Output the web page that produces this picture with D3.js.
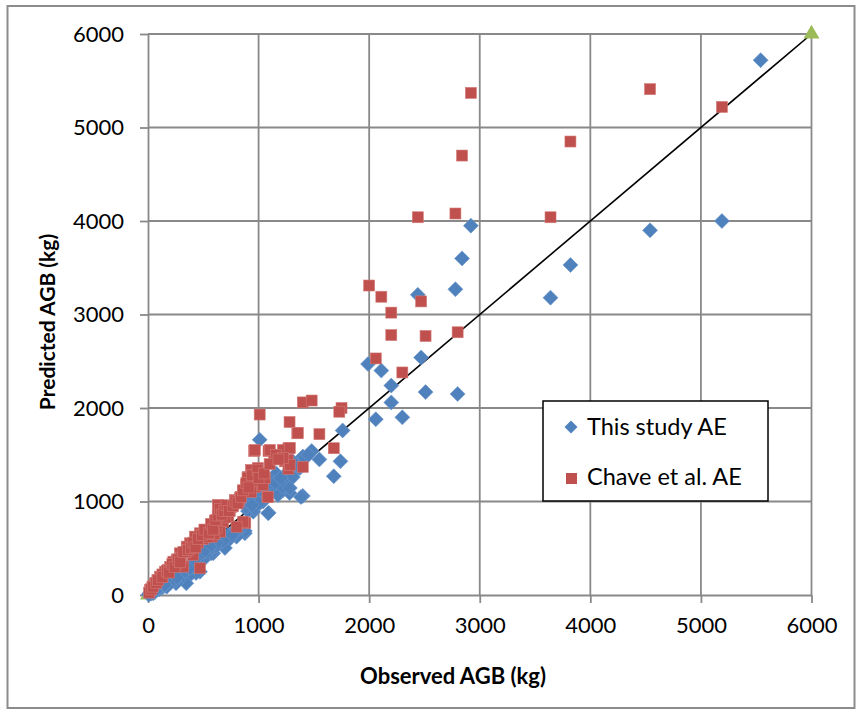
<!DOCTYPE html>
<html>
<head>
<meta charset="utf-8">
<script src="https://cdn.jsdelivr.net/npm/d3@7/dist/d3.min.js"></script>
<style>
  html, body { margin: 0; padding: 0; background: #fff; }
  svg { display: block; }
  text { font-family: Lato, "Open Sans", sans-serif; fill: #000; }
</style>
</head>
<body>
<svg id="chart" width="856" height="709"></svg>
<script>
// Observed vs predicted above-ground biomass (kg)
const axisTicks = [0, 1000, 2000, 3000, 4000, 5000, 6000];

// "This study AE" — observed / predicted
const thisStudyObs = [
  5540, 5190, 4540, 3820, 3640, 2920, 2840, 2780, 2440, 2470,
  1990, 2110, 2200, 2200, 2510, 2800, 2060, 2300, 1760, 1010,
  1480, 1400, 1550, 1740, 1680, 1400, 1090, 1300, 1220, 1280,
  1120, 1340, 1250, 1160, 1280, 1102, 1111, 1175, 1265, 1310,
  1373, 1419, 1383, 1220, 1283, 997, 985, 952, 922, 904,
  892, 1087, 876, 876, 830, 801, 740, 696, 696, 650,
  620, 590, 570, 560, 520, 497, 485, 470, 434, 430,
  400, 389, 364, 346, 330, 300, 274, 253, 240, 200,
  169, 130, 108, 100, 70, 48, 30, 18, 15, 5,
  1040, 960, 780, 720, 640, 610, 540, 450, 380, 260,
  150, 60, 1050, 1150, 1200, 1330, 1450, 1000, 940, 1060,
  800, 760, 680, 620, 560, 500, 440, 420
];
const thisStudyPred = [
  5720, 4000, 3900, 3530, 3180, 3950, 3600, 3270, 3210, 2540,
  2470, 2400, 2240, 2060, 2170, 2150, 1880, 1900, 1760, 1660,
  1540, 1480, 1450, 1430, 1270, 1060, 880, 1440, 1120, 1090,
  1230, 1340, 1160, 1300, 1230, 1230, 1102, 1070, 1316, 1262,
  1358, 1465, 1048, 1155, 1144, 1051, 952, 891, 1016, 898,
  944, 874, 660, 684, 700, 624, 600, 503, 624, 560,
  520, 446, 446, 481, 420, 374, 428, 249, 235, 350,
  300, 300, 196, 125, 250, 210, 160, 125, 150, 130,
  89, 80, 75, 60, 40, 18, 15, 21, 10, 5,
  1000, 930, 690, 640, 560, 520, 470, 380, 290, 190,
  110, 40, 1100, 1200, 1250, 1400, 1500, 980, 960, 1150,
  680, 640, 580, 560, 520, 460, 400, 380
];

// "Chave et al. AE" — observed / predicted
const chaveObs = [
  5190, 4540, 3820, 3640, 2920, 2840, 2780, 2440, 2470, 2000,
  2110, 2200, 2200, 2510, 2800, 2060, 2300, 1400, 1480, 1750,
  1730, 1010, 1280, 1350, 1550, 1680, 960, 1090, 1140, 1270,
  1240, 1270, 1400, 1080, 880, 1355, 967, 1102, 1220, 1283,
  1157, 1265, 1283, 1220, 931, 994, 904, 949, 1021, 886,
  967, 858, 931, 1039, 1084, 696, 756, 666, 726, 680,
  861, 801, 576, 530, 470, 425, 380, 576, 651, 350,
  289, 229, 154, 108, 63, 18, 319, 470, 409, 620,
  700, 786, 740, 632, 605, 831, 900, 1057, 980, 820,
  500, 450, 540, 600, 260, 200, 130, 85, 40, 25,
  10, 340, 300, 250, 180, 30, 45, 75, 90, 130,
  170, 190, 220, 240, 270, 290, 320, 360, 390, 410,
  430, 450, 490, 510, 550, 570, 590, 610, 630, 650,
  670, 690, 710, 730, 770, 790, 810, 840, 860, 890,
  910, 940, 990, 1000, 1050, 1100, 1180
];
const chavePred = [
  5220, 5410, 4850, 4040, 5370, 4700, 4080, 4040, 3140, 3310,
  3190, 3020, 2780, 2770, 2810, 2530, 2380, 2060, 2080, 2000,
  1960, 1930, 1850, 1730, 1720, 1570, 1540, 1540, 1500, 1570,
  1430, 1350, 1370, 1050, 770, 1733, 1551, 1551, 1551, 1572,
  1497, 1444, 1390, 1465, 1337, 1358, 1262, 1230, 1209, 1176,
  1155, 1102, 1102, 1176, 1048, 944, 944, 909, 837, 784,
  784, 730, 730, 695, 660, 624, 553, 624, 677, 517,
  446, 356, 249, 196, 125, 53, 303, 286, 428, 720,
  830, 1016, 900, 963, 791, 1037, 1251, 1251, 1290, 1000,
  600, 560, 620, 650, 380, 300, 220, 160, 90, 60,
  25, 460, 400, 330, 270, 60, 90, 130, 160, 190,
  260, 240, 330, 300, 380, 350, 460, 480, 500, 560,
  510, 600, 640, 700, 660, 760, 700, 800, 850, 920,
  860, 900, 960, 900, 950, 1000, 980, 1050, 1120, 1200,
  1150, 1280, 1340, 1250, 1300, 1400, 1450
];

// 1:1 reference line end points
const oneToOne = [0, 6000];

const legendLabels = ["This study AE", "Chave et al. AE"];

const COLORS = { thisStudy: "#4F81BD", chave: "#C0504D", ref: "#9BBB59", grid: "#898989" };

const svg = d3.select("#chart");

// outer chart frame
svg.append("rect")
  .attr("x", 7.5).attr("y", 6).attr("width", 847).attr("height", 702)
  .attr("fill", "#fff").attr("stroke", "#8c8c8c").attr("stroke-width", 2);

const x = d3.scaleLinear().domain([0, 6000]).range([148, 811.5]);
const y = d3.scaleLinear().domain([0, 6000]).range([595, 34]);

// gridlines
const grid = svg.append("g").attr("stroke", COLORS.grid).attr("stroke-width", 1.8);
grid.selectAll("line.v").data(axisTicks.slice(1)).join("line")
  .attr("x1", d => x(d)).attr("x2", d => x(d)).attr("y1", y(0)).attr("y2", y(6000));
grid.selectAll("line.h").data(axisTicks.slice(1)).join("line")
  .attr("x1", x(0)).attr("x2", x(6000)).attr("y1", d => y(d)).attr("y2", d => y(d));

// axes
const fmt = d3.format("d");
const xAxis = d3.axisBottom(x).tickValues(axisTicks).tickFormat(fmt)
  .tickSize(8).tickSizeOuter(0).tickPadding(14);
const yAxis = d3.axisLeft(y).tickValues(axisTicks).tickFormat(fmt)
  .tickSize(8).tickSizeOuter(0).tickPadding(16);

const gx = svg.append("g").attr("transform", `translate(0,${y(0)})`).call(xAxis);
const gy = svg.append("g").attr("transform", `translate(${x(0)},0)`).call(yAxis);
[gx, gy].forEach(g => {
  g.select(".domain").attr("stroke", COLORS.grid).attr("stroke-width", 1.8);
  g.selectAll(".tick line").attr("stroke", COLORS.grid).attr("stroke-width", 1.8);
  g.selectAll(".tick text").attr("font-size", 22).attr("font-family", "Lato, sans-serif").attr("fill", "#000");
});

// 1:1 line and its end markers
svg.append("line")
  .attr("x1", x(oneToOne[0])).attr("y1", y(oneToOne[0]))
  .attr("x2", x(oneToOne[1])).attr("y2", y(oneToOne[1]))
  .attr("stroke", "#000").attr("stroke-width", 1.6);
svg.append("g").selectAll("path").data(oneToOne).join("path")
  .attr("transform", d => `translate(${x(d)},${y(d)})`)
  .attr("d", d3.symbol(d3.symbolTriangle, 110)())
  .attr("fill", COLORS.ref);

// series markers
const diamond = "M0,-7.5L7.5,0L0,7.5L-7.5,0Z";
svg.append("g").selectAll("path").data(d3.range(thisStudyObs.length)).join("path")
  .attr("transform", i => `translate(${x(thisStudyObs[i])},${y(thisStudyPred[i])})`)
  .attr("d", diamond)
  .attr("fill", COLORS.thisStudy)
  .attr("stroke", "#6f98cc").attr("stroke-width", 0.6);

svg.append("g").selectAll("rect").data(d3.range(chaveObs.length)).join("rect")
  .attr("x", i => x(chaveObs[i]) - 5.5).attr("y", i => y(chavePred[i]) - 5.5)
  .attr("width", 11).attr("height", 11)
  .attr("fill", COLORS.chave)
  .attr("stroke", "#d27a77").attr("stroke-width", 0.6);

// axis titles
svg.append("text")
  .attr("x", 453).attr("y", 684)
  .attr("text-anchor", "middle").attr("font-size", 22).attr("font-weight", "bold")
  .text("Observed AGB (kg)");
svg.append("text")
  .attr("transform", "translate(55,322) rotate(-90)")
  .attr("text-anchor", "middle").attr("font-size", 21).attr("font-weight", "bold")
  .text("Predicted AGB (kg)");

// legend
const lg = svg.append("g");
lg.append("rect")
  .attr("x", 543).attr("y", 401).attr("width", 225).attr("height", 100)
  .attr("fill", "#fff").attr("stroke", "#000").attr("stroke-width", 1.5);
lg.append("path")
  .attr("transform", "translate(571,427)")
  .attr("d", "M0,-6.5L6.5,0L0,6.5L-6.5,0Z")
  .attr("fill", COLORS.thisStudy);
lg.append("rect")
  .attr("x", 566).attr("y", 473).attr("width", 11).attr("height", 11)
  .attr("fill", COLORS.chave);
lg.selectAll("text").data(legendLabels).join("text")
  .attr("x", 587).attr("y", (d, i) => 435 + i * 50)
  .attr("font-size", 23.5)
  .text(d => d);
</script>
</body>
</html>
